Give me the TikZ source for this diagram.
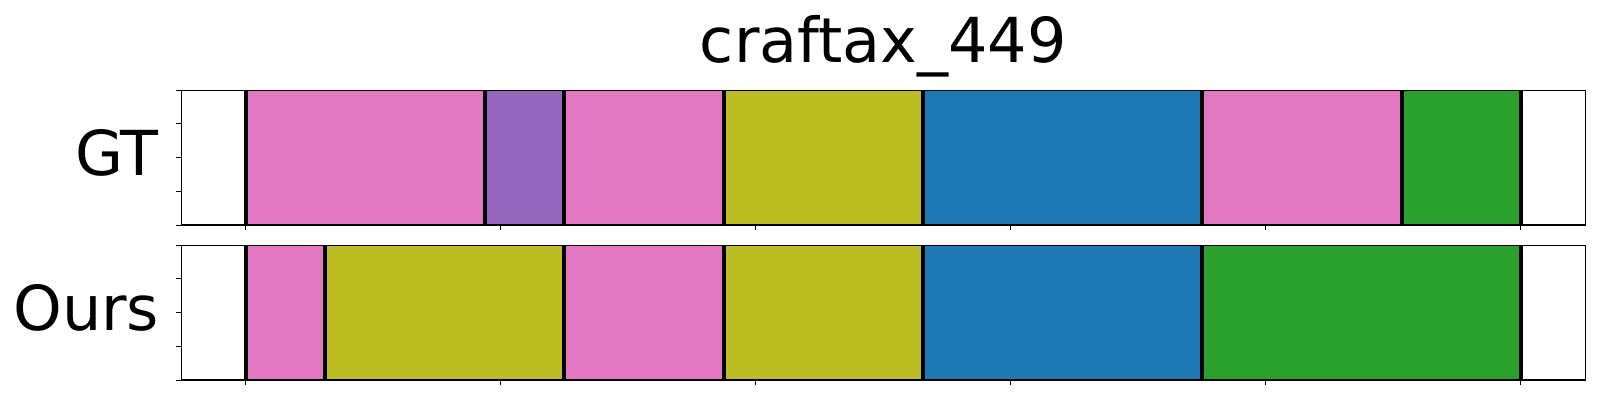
\documentclass[tikz,border=0pt]{standalone}
\usepackage{fontspec}
\setmainfont{DejaVu Sans}
\definecolor{tpink}{HTML}{E377C2}
\definecolor{tpurple}{HTML}{9467BD}
\definecolor{tolive}{HTML}{BCBD22}
\definecolor{tblue}{HTML}{1F77B4}
\definecolor{tgreen}{HTML}{2CA02C}
\begin{document}
\begin{tikzpicture}[x=1pt,y=-1pt,
  seg/.style={line width=0.6pt},
  bound/.style={line width=4pt,black},
  axframe/.style={line width=1.2pt,black},
  tickmark/.style={line width=1pt,black},
  bigtext/.style={font=\fontsize{62}{70}\selectfont,inner sep=0pt}]
\useasboundingbox (0,0) rectangle (1600,400);
% title
\node[bigtext,anchor=base] (title) at (883.3,62.3) {craftax\_449};
% ---- GT row
\def\ta{90.3}\def\tb{225}
\foreach \xa/\xb/\c in {245.5/485/tpink,485/564/tpurple,564/723.7/tpink,723.7/922.7/tolive,922.7/1201.7/tblue,1201.7/1401.7/tpink,1401.7/1520.7/tgreen}
  \filldraw[seg,fill=\c,draw=\c!85!black] (\xa,\ta) rectangle (\xb,\tb);
\foreach \x in {245.5,485,564,723.7,922.7,1201.7,1401.7,1520.7}
  \draw[bound] (\x,\ta) -- (\x,\tb);
\draw[axframe] (181.3,\ta) rectangle (1585.3,\tb);
\foreach \k in {0,...,4}
  \draw[tickmark] (176.3,{\ta+\k*(\tb-\ta)/4}) -- (181.3,{\ta+\k*(\tb-\ta)/4});
\foreach \k in {0,...,5}
  \draw[tickmark] ({245.5+255*\k},\tb) -- ({245.5+255*\k},\tb+5);
\node[bigtext,anchor=base east] (gt) at (159,175) {GT};
% ---- Ours row
\def\ua{245.3}\def\ub{380}
\foreach \xa/\xb/\c in {245.5/324.7/tpink,324.7/564/tolive,564/723.7/tpink,723.7/922.7/tolive,922.7/1201.7/tblue,1201.7/1520.7/tgreen}
  \filldraw[seg,fill=\c,draw=\c!85!black] (\xa,\ua) rectangle (\xb,\ub);
\foreach \x in {245.5,324.7,564,723.7,922.7,1201.7,1520.7}
  \draw[bound] (\x,\ua) -- (\x,\ub);
\draw[axframe] (181.3,\ua) rectangle (1585.3,\ub);
\foreach \k in {0,...,4}
  \draw[tickmark] (176.3,{\ua+\k*(\ub-\ua)/4}) -- (181.3,{\ua+\k*(\ub-\ua)/4});
\foreach \k in {0,...,5}
  \draw[tickmark] ({245.5+255*\k},\ub) -- ({245.5+255*\k},\ub+5);
\node[bigtext,anchor=base east] (ours) at (159.5,330) {Ours};
\end{tikzpicture}
\end{document}
